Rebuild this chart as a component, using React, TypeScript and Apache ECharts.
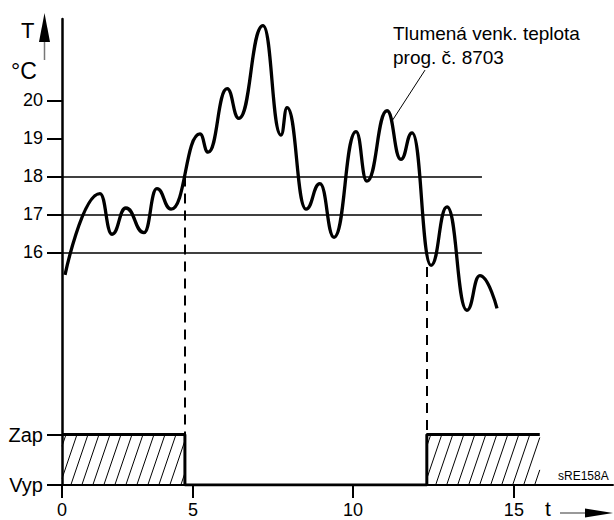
import React, { useEffect, useRef } from "react";
import * as echarts from "echarts";

// ---- data ----
const TIME_TICK_POS = [0, 4.35, 9.66, 15];
const TIME_TICK_LABELS = ["0", "5", "10", "15"];
const TEMP_TICKS = [16, 17, 18, 19, 20];
const STATE_TICKS = [0, 1];
const STATE_LABELS = ["Vyp", "Zap"];

// damped outdoor temperature (extrema of the curve)
const CURVE_T = [0.1, 1.26, 1.66, 2.12, 2.72, 3.15, 3.62, 4.58, 4.85, 5.48, 5.87, 6.67, 7.27, 7.47, 8.1, 8.56, 9.03, 9.76, 10.12, 10.79, 11.25, 11.62, 12.25, 12.78, 13.44, 13.87, 14.44];
const CURVE_TEMP = [15.41, 17.55, 16.48, 17.17, 16.52, 17.68, 17.14, 19.12, 18.64, 20.31, 19.53, 21.97, 19.09, 19.81, 17.14, 17.81, 16.4, 19.18, 17.88, 19.73, 18.45, 19.15, 15.66, 17.2, 14.48, 15.39, 14.53];

const LIMIT_TEMPS = [16, 17, 18];
const LIMIT_END = 13.94;

const SWITCH_T = [4.08, 12.11];
const SWITCH_TEMP = [18, 15.62];

const STEP_T = [0, 4.08, 12.11, 15.86];
const STEP_STATE = [1, 0, 1, 1];
const HATCH_RANGES = [
  [0, 4.08],
  [12.11, 15.86],
];

const LEADER_FROM = [10.98, 19.49];
const LEADER_TO = [12.05, 20.8];

// ---- axis extents ----
const X_MAX = 18.29;
const T_MIN = 9.88;
const T_MAX = 22.145;
const S_MIN = 0;
const S_MAX = 9.228;

const FONT = "'Liberation Sans', Arial, Helvetica, sans-serif";

function stateInTemp(s: number) {
  return T_MIN + ((s - S_MIN) / (S_MAX - S_MIN)) * (T_MAX - T_MIN);
}

export default function App() {
  const ref = useRef<HTMLDivElement>(null);

  useEffect(() => {
    if (!ref.current) return;
    const chart = echarts.init(ref.current, undefined, { renderer: "svg" });

    const curve = CURVE_T.map((t, i) => [t, CURVE_TEMP[i]]);
    const step = STEP_T.map((t, i) => [t, STEP_STATE[i]]);
    const zapTemp = stateInTemp(1);

    const HATCH_GAP = 11;
    const HATCH_SLANT = 0.34;

    const option: any = {
      animation: false,
      backgroundColor: "#ffffff",
      grid: {
        left: 62,
        right: 1,
        top: 19,
        bottom: 35,
        containLabel: false,
        outerBoundsMode: "none",
      },
      xAxis: {
        type: "value",
        min: 0,
        max: X_MAX,
        axisLine: { show: true, onZero: false, lineStyle: { color: "#000", width: 2 } },
        axisTick: {
          show: true,
          length: 13,
          inside: false,
          customValues: TIME_TICK_POS,
          lineStyle: { color: "#000", width: 2 },
        },
        axisLabel: {
          show: true,
          customValues: TIME_TICK_POS,
          margin: 16,
          fontSize: 18,
          fontFamily: FONT,
          color: "#000",
          formatter: (v: number) => {
            let best = 0;
            TIME_TICK_POS.forEach((p, i) => {
              if (Math.abs(p - v) < Math.abs(TIME_TICK_POS[best] - v)) best = i;
            });
            return TIME_TICK_LABELS[best];
          },
        },
        splitLine: { show: false },
      },
      yAxis: [
        {
          type: "value",
          min: T_MIN,
          max: T_MAX,
          position: "left",
          axisLine: { show: true, onZero: false, lineStyle: { color: "#000", width: 2.5 } },
          axisTick: {
            show: true,
            length: 15,
            customValues: TEMP_TICKS,
            lineStyle: { color: "#000", width: 2 },
          },
          axisLabel: {
            show: true,
            customValues: TEMP_TICKS,
            margin: 19,
            fontSize: 18,
            fontFamily: FONT,
            color: "#000",
          },
          splitLine: { show: false },
        },
        {
          type: "value",
          min: S_MIN,
          max: S_MAX,
          position: "left",
          offset: 0,
          axisLine: { show: false },
          axisTick: {
            show: true,
            length: 15,
            customValues: STATE_TICKS,
            lineStyle: { color: "#000", width: 2 },
          },
          axisLabel: {
            show: true,
            customValues: STATE_TICKS,
            margin: 19,
            fontSize: 20,
            fontFamily: FONT,
            color: "#000",
            formatter: (v: number) => STATE_LABELS[STATE_TICKS.indexOf(Math.round(v))] ?? "",
          },
          splitLine: { show: false },
        },
      ],
      series: [
        {
          type: "custom",
          name: "hatch",
          xAxisIndex: 0,
          yAxisIndex: 1,
          silent: true,
          z: 1,
          encode: { x: [0, 1], y: [2, 3] },
          data: HATCH_RANGES.map((r) => [r[0], r[1], 0, 1]),
          renderItem: (params: any, api: any) => {
            const p0 = api.coord([api.value(0), 1]);
            const p1 = api.coord([api.value(1), 0]);
            const left = p0[0];
            const top = p0[1];
            const right = p1[0];
            const bottom = p1[1];
            const h = bottom - top;
            const run = h * HATCH_SLANT;
            const children: any[] = [];
            for (let xb = left - run + 4; xb < right; xb += HATCH_GAP) {
              const sMin = Math.max(0, (left - xb) / run);
              const sMax = Math.min(1, (right - xb) / run);
              if (sMax > sMin) {
                children.push({
                  type: "line",
                  shape: {
                    x1: xb + sMin * run,
                    y1: bottom - sMin * h,
                    x2: xb + sMax * run,
                    y2: bottom - sMax * h,
                  },
                  style: { stroke: "#000", lineWidth: 1 },
                });
              }
            }
            return { type: "group", children };
          },
        },
        {
          type: "line",
          name: "limits",
          xAxisIndex: 0,
          yAxisIndex: 0,
          data: [],
          silent: true,
          z: 2,
          markLine: {
            silent: true,
            symbol: ["none", "none"],
            label: { show: false },
            lineStyle: { color: "#000", width: 1.6, type: "solid" },
            data: LIMIT_TEMPS.map((v) => [{ coord: [0, v] }, { coord: [LIMIT_END, v] }]),
          },
        },
        {
          type: "line",
          name: "switch",
          xAxisIndex: 0,
          yAxisIndex: 0,
          data: [],
          silent: true,
          z: 2,
          markLine: {
            silent: true,
            symbol: ["none", "none"],
            label: { show: false },
            lineStyle: { color: "#000", width: 2, type: [10, 7] },
            data: SWITCH_T.map((t, i) => [{ coord: [t, SWITCH_TEMP[i]] }, { coord: [t, zapTemp] }]),
          },
        },
        {
          type: "line",
          name: "leader",
          xAxisIndex: 0,
          yAxisIndex: 0,
          data: [],
          silent: true,
          z: 2,
          markLine: {
            silent: true,
            symbol: ["none", "none"],
            label: { show: false },
            lineStyle: { color: "#000", width: 1, type: "solid" },
            data: [[{ coord: LEADER_FROM }, { coord: LEADER_TO }]],
          },
        },
        {
          type: "line",
          name: "Tlumená venk. teplota",
          xAxisIndex: 0,
          yAxisIndex: 0,
          data: curve,
          smooth: 0.5,
          smoothMonotone: "x",
          symbol: "none",
          silent: true,
          z: 5,
          lineStyle: { color: "#000", width: 3.3 },
        },
        {
          type: "line",
          name: "Zap/Vyp",
          xAxisIndex: 0,
          yAxisIndex: 1,
          data: step,
          step: "end",
          symbol: "none",
          silent: true,
          z: 4,
          lineStyle: { color: "#000", width: 3 },
        },
      ],
      graphic: [
        {
          type: "text",
          x: 21,
          y: 30,
          style: { text: "T", font: `22px ${FONT}`, fill: "#000", verticalAlign: "middle", align: "left" },
        },
        {
          type: "text",
          x: 11,
          y: 71,
          style: { text: "°C", font: `23px ${FONT}`, fill: "#000", verticalAlign: "middle", align: "left" },
        },
        {
          type: "line",
          shape: { x1: 44.5, y1: 42, x2: 44.5, y2: 60 },
          style: { stroke: "#777", lineWidth: 1.5 },
        },
        {
          type: "polygon",
          shape: { points: [[39, 42], [50, 42], [44.5, 13]] },
          style: { fill: "#000" },
        },
        {
          type: "text",
          x: 545,
          y: 508,
          style: { text: "t", font: `21px ${FONT}`, fill: "#000", verticalAlign: "middle", align: "left" },
        },
        {
          type: "line",
          shape: { x1: 560, y1: 513, x2: 588, y2: 513 },
          style: { stroke: "#777", lineWidth: 1.5 },
        },
        {
          type: "polygon",
          shape: { points: [[585, 508.5], [585, 517.5], [613, 513]] },
          style: { fill: "#000" },
        },
        {
          type: "text",
          x: 558,
          y: 476,
          style: { text: "sRE158A", font: `12px ${FONT}`, fill: "#000", verticalAlign: "middle", align: "left" },
        },
        {
          type: "text",
          x: 393,
          y: 33,
          style: { text: "Tlumená venk. teplota", font: `19px ${FONT}`, fill: "#000", verticalAlign: "middle", align: "left" },
        },
        {
          type: "text",
          x: 393,
          y: 57,
          style: { text: "prog. č. 8703", font: `19px ${FONT}`, fill: "#000", verticalAlign: "middle", align: "left" },
        },
      ],
    };

    chart.setOption(option);
    return () => chart.dispose();
  }, []);

  return (
    <div
      ref={ref}
      style={{ position: "absolute", left: 0, top: 0, width: 614, height: 520, background: "#fff" }}
    />
  );
}
